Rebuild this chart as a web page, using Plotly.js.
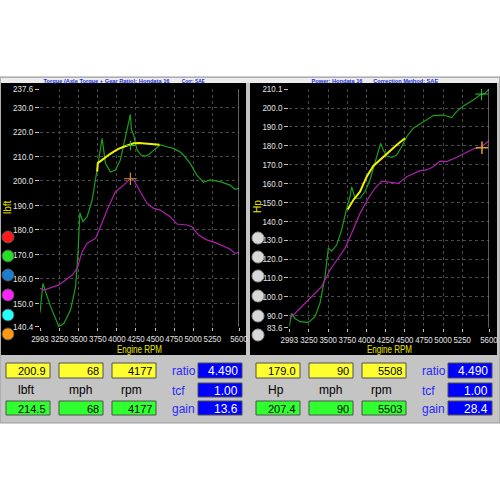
<!DOCTYPE html>
<html><head><meta charset="utf-8">
<script src="https://cdn.plot.ly/plotly-3.0.1.min.js"></script>
<style>html,body{margin:0;padding:0;background:#fff;}#c{width:500px;height:500px;}</style>
</head><body><div id="c"></div>
<script>
// ---------- DATA ----------
// Torque chart (lbft vs Engine RPM)
const tqGreenRpm = [2993,3032,3058,3132,3241,3306,3393,3459,3490,3515,3554,3611,3676,3720,3750,3790,3807,3830,3850,3916,3981,4046,4111,4150,4177,4190,4220,4264,4320,4373,4420,4460,4568,4655,4742,4820,4873,4960,5047,5134,5221,5352,5482,5547,5600];
const tqGreen    = [146.1,158.1,155.4,148.6,140.4,141.8,147.2,156.8,170.0,187.0,183.4,185.4,192.2,200.4,205.8,213.0,217.4,212.0,207.2,203.7,204.5,208.6,218.1,224.0,227.2,221.0,218.8,212.7,210.5,210.2,210.8,212.0,214.7,214.0,213.3,212.0,210.6,207.2,202.4,199.4,200.4,199.7,198.3,196.6,197.0];
const tqYellowRpm = [3742,3750,3790,3829,3900,3959,4020,4090,4160,4220,4290,4351,4420,4481,4560];
const tqYellow    = [203.8,207.2,208.2,209.2,210.8,212.0,213.1,214.0,214.8,215.4,215.5,215.4,215.3,215.1,214.8];
const tqMagentaRpm = [2993,3045,3241,3415,3480,3546,3611,3720,3785,3872,3981,4090,4177,4220,4307,4394,4481,4568,4699,4786,4917,4982,5069,5178,5287,5395,5482,5547,5600];
const tqMagenta    = [156.1,155.4,157.5,161.5,164.3,171.1,174.5,176.5,181.3,188.1,195.6,198.3,201.1,200.4,195.6,190.9,188.8,188.1,185.4,182.4,182.0,181.3,177.9,175.9,174.8,173.5,172.2,170.4,170.7];

// Power chart (Hp vs Engine RPM)
const hpGreenRpm = [2993,3023,3067,3132,3241,3328,3393,3459,3502,3546,3611,3676,3742,3785,3807,3850,3916,3981,4046,4111,4155,4185,4220,4264,4329,4394,4460,4525,4612,4742,4873,5004,5112,5178,5265,5395,5482,5547,5600];
const hpGreen    = [84.1,91.2,88.5,86.8,86.4,89.4,96.5,110.6,125.7,124.2,127.4,135.4,146.8,153.0,158.3,152.2,152.2,155.7,161.9,171.6,177.8,181.3,177.8,174.6,173.9,175.1,179.5,184.8,189.3,192.8,196.0,196.3,194.9,198.1,201.1,204.3,206.9,207.8,210.1];
const hpYellowRpm = [3755,3829,3916,4003,4090,4177,4264,4394,4503];
const hpYellow    = [146.3,151.3,155.7,163.6,169.3,172.5,176.0,180.4,184.0];
const hpMagentaRpm = [2993,3045,3241,3415,3524,3611,3720,3807,3916,4025,4111,4198,4307,4416,4525,4699,4786,4873,4960,5047,5178,5287,5395,5504,5600];
const hpMagenta    = [88.5,90.3,98.3,105.3,114.2,119.5,125.7,133.6,144.2,152.2,157.5,161.3,160.6,160.1,163.6,166.8,167.2,168.9,171.9,171.6,173.9,176.0,178.3,179.5,182.7];

// Cursors
const tqCursorRpm = [4177, 4177];
const tqCursorVal = [200.9, 214.5];
const hpCursorRpm = [5508, 5503];
const hpCursorVal = [179.0, 207.4];

// Tick labels
const rpmTicks = [2993,3250,3500,3750,4000,4250,4500,4750,5000,5250,5600];
const tqTicks  = [140.4,150,160,170,180,190,200,210,220,230,237.6];
const tqTickText = ["140.4","150.0","160.0","170.0","180.0","190.0","200.0","210.0","220.0","230.0","237.6"];
const hpTicks  = [83.6,90,100,110,120,130,140,150,160,170,180,190,200,210.1];
const hpTickText = ["83.6","90.0","100.0","110.0","120.0","130.0","140.0","150.0","160.0","170.0","180.0","190.0","200.0","210.1"];

// Texts
const tqTitle1 = "Torque (Axle Torque + Gear Ratio): Hondata 16";
const tqTitle2 = "Corr: SAE";
const hpTitle1 = "Power: Hondata 16";
const hpTitle2 = "Correction Method: SAE";
const xTitle = "Engine RPM";
const tqUnit = "lbft", hpUnit = "Hp";
const tqYellowBoxes = ["200.9","68","4177"];
const tqGreenBoxes  = ["214.5","68","4177"];
const tqBlueBoxes   = ["4.490","1.00","13.6"];
const hpYellowBoxes = ["179.0","90","5508"];
const hpGreenBoxes  = ["207.4","90","5503"];
const hpBlueBoxes   = ["4.490","1.00","28.4"];
const tqBoxLabels = ["lbft","mph","rpm"];
const hpBoxLabels = ["Hp","mph","rpm"];
const blueLabels = ["ratio","tcf","gain"];
const legendColors = ["#ff1a1a","#22e022","#1a7fd0","#ff22ff","#22ffff","#ff9a10"];

// ---------- LAYOUT HELPERS (pixel -> paper) ----------
const W = 500, H = 500;
const FONT = "Liberation Sans, Arial, sans-serif";
const shapes = [], ann = [];
function rect(x0,y0,x1,y1,fill,lc,lw,layer){
  shapes.push({type:'rect',xref:'paper',yref:'paper',x0:x0/W,x1:x1/W,y0:1-y1/H,y1:1-y0/H,
    fillcolor:fill,line:{color:lc||fill,width:lw===undefined?0:lw},layer:layer||'below'});
}
function circ(cx,cy,r,fill,lc){
  shapes.push({type:'circle',xref:'paper',yref:'paper',x0:(cx-r)/W,x1:(cx+r)/W,y0:1-(cy+r)/H,y1:1-(cy-r)/H,
    fillcolor:fill,line:{color:lc,width:1},layer:'above'});
}
function txt(x,y,t,size,color,xa,opts){
  ann.push(Object.assign({xref:'paper',yref:'paper',x:x/W,y:1-y/H,text:t,showarrow:false,
    xanchor:xa||'center',yanchor:'middle',font:{family:FONT,size:size,color:color}},opts||{}));
}
function box(x0,y0,x1,y1,fill,val,tc,size){
  rect(x0,y0,x1,y1,fill,'#505050',1,'above');
  txt(x1-2,(y0+y1)/2+0.5,val,size,tc,'right');
}

// panel
rect(0,77,500,423,'#c4c4c4','#9a9a9a',1);
rect(1,78,499,83,'#ececec');
rect(1,83,246,355,'#000000');
rect(250,83,497,355,'#000000');

// title bar texts (centres; widths squeezed after render)
const titleFont = {family:FONT,size:6,color:'#2030d8',weight:'bold'};
txt(107,80.5,tqTitle1,6,'#2030d8','center',{font:titleFont});
txt(193.5,80.5,tqTitle2,6,'#2030d8','center',{font:titleFont});
txt(337.5,80.5,hpTitle1,6,'#2030d8','center',{font:titleFont});
txt(405.5,80.5,hpTitle2,6,'#2030d8','center',{font:titleFont});
const squeezeTo = {};
squeezeTo[tqTitle1]=126; squeezeTo[tqTitle2]=23; squeezeTo[hpTitle1]=51; squeezeTo[hpTitle2]=65; squeezeTo[xTitle]=45;

// axis titles
txt(139,348.5,xTitle,10.5,'#e8e800');
txt(389,348.5,xTitle,10.5,'#e8e800');
txt(8,207,tqUnit,10,'#e8e800','center',{textangle:-90});
txt(258,207,hpUnit,10,'#e8e800','center',{textangle:-90});

// legend circles
const cyL = [237,256,275,295,315,334];
cyL.forEach((cy,i)=>circ(8,cy,6,legendColors[i],'#555'));
const cyR = [238,257,276,296,316,335];
cyR.forEach(cy=>{circ(258,cy,6,'#d8d8d8','#9a9a9a');});

// bottom boxes
function panel(off,yb,gb,bb,labs){
  const xs=[[6,50],[59,103],[112,156]];
  xs.forEach((p,i)=>{
    box(p[0]+off,363,p[1]+off,378,'#ffff30',yb[i],'#000',11);
    box(p[0]+off,401,p[1]+off,415,'#30ff30',gb[i],'#000',11);
  });
  const lx=[26,80,131];
  labs.forEach((l,i)=>txt(lx[i]+off,390,l,12,'#000'));
  const by=[[363,378],[383,397],[401,415]];
  by.forEach((p,i)=>{
    box(198+off,p[0],242+off,p[1],'#0000ff',bb[i],'#fff',12);
    txt(170+off,(p[0]+p[1])/2+0.5,blueLabels[i],12,'#2828ff','left');
  });
}
panel(0,tqYellowBoxes,tqGreenBoxes,tqBlueBoxes,tqBoxLabels);
panel(250,hpYellowBoxes,hpGreenBoxes,hpBlueBoxes,hpBoxLabels);

// right-edge cursor lines
shapes.push({type:'line',xref:'x',yref:'y domain',x0:5600,x1:5600,y0:0,y1:1,line:{color:'#b8b8b8',width:1},layer:'above'});
shapes.push({type:'line',xref:'x2',yref:'y2 domain',x0:5600,x1:5600,y0:0,y1:1,line:{color:'#b8b8b8',width:1},layer:'above'});

const tickFont = {family:FONT,size:9,color:'#e4e4e4'};
function xax(dom,anchor){
  return {domain:dom,anchor:anchor,range:[2993,5600],tickmode:'array',tickvals:rpmTicks,ticktext:rpmTicks.map(String),
    tickangle:0,tickfont:tickFont,ticks:'outside',ticklen:3,tickcolor:'#c0c0c0',showgrid:true,gridcolor:'#4a4a4a',
    griddash:'dot',zeroline:false,showline:false,fixedrange:true,ticklabeloverflow:'allow',automargin:false};
}
function yax(dom,anchor,rng,tv,tt){
  return {domain:dom,anchor:anchor,range:rng,tickmode:'array',tickvals:tv,ticktext:tt,tickfont:{family:FONT,size:9.5,color:'#e4e4e4'},
    ticks:'outside',ticklen:4,tickcolor:'#c0c0c0',showgrid:true,gridcolor:'#4a4a4a',griddash:'dot',zeroline:false,showline:false,fixedrange:true,ticklabeloverflow:'allow',automargin:false};
}

const traces = [
  {x:tqGreenRpm,y:tqGreen,xaxis:'x',yaxis:'y',mode:'lines',line:{color:'#1aa01a',width:1.2}},
  {x:tqMagentaRpm,y:tqMagenta,xaxis:'x',yaxis:'y',mode:'lines',line:{color:'#b020b0',width:1.2}},
  {x:tqYellowRpm,y:tqYellow,xaxis:'x',yaxis:'y',mode:'lines',line:{color:'#f0f000',width:2}},
  {x:[tqCursorRpm[0]],y:[tqCursorVal[0]],xaxis:'x',yaxis:'y',mode:'markers',marker:{symbol:'cross-thin',size:9,line:{color:'#d09020',width:1.2}}},
  {x:[tqCursorRpm[1]],y:[tqCursorVal[1]],xaxis:'x',yaxis:'y',mode:'markers',marker:{symbol:'cross-thin',size:7,line:{color:'#30c030',width:1}}},
  {x:hpGreenRpm,y:hpGreen,xaxis:'x2',yaxis:'y2',mode:'lines',line:{color:'#1aa01a',width:1.2}},
  {x:hpMagentaRpm,y:hpMagenta,xaxis:'x2',yaxis:'y2',mode:'lines',line:{color:'#b020b0',width:1.2}},
  {x:hpYellowRpm,y:hpYellow,xaxis:'x2',yaxis:'y2',mode:'lines',line:{color:'#f0f000',width:2}},
  {x:[hpCursorRpm[0]],y:[hpCursorVal[0]],xaxis:'x2',yaxis:'y2',mode:'markers',marker:{symbol:'cross-thin',size:9,line:{color:'#e0a030',width:1.5}}},
  {x:[hpCursorRpm[1]],y:[hpCursorVal[1]],xaxis:'x2',yaxis:'y2',mode:'markers',marker:{symbol:'cross-thin',size:9,line:{color:'#30c030',width:1}}}
];

const layout = {
  width:500,height:500,margin:{l:0,r:0,t:0,b:0},paper_bgcolor:'#ffffff',plot_bgcolor:'#000000',
  showlegend:false,
  xaxis:xax([40/W,239/W],'y'),
  yaxis:yax([1-326.7/H,1-89/H],'x',[140.4,237.6],tqTicks,tqTickText),
  xaxis2:xax([289.3/W,489/W],'y2'),
  yaxis2:yax([1-327.7/H,1-89/H],'x2',[83.6,210.1],hpTicks,hpTickText),
  shapes:shapes,annotations:ann
};
function squeeze(el,len){
  el.setAttribute('textLength',len.toFixed(1));
  el.setAttribute('lengthAdjust','spacingAndGlyphs');
}
Plotly.newPlot('c',traces,layout,{staticPlot:true,displayModeBar:false}).then(gd=>{
  gd.querySelectorAll('.xaxislayer-above text').forEach(t=>{
    const w=t.getComputedTextLength(); if(w>0) squeeze(t,Math.min(w*0.9,17.5));
  });
  gd.querySelectorAll('.yaxislayer-above text').forEach(t=>{
    const w=t.getComputedTextLength(); if(w>0) squeeze(t,w*0.84);
  });
  gd.querySelectorAll('text.annotation-text').forEach(t=>{
    const s=t.textContent; if(squeezeTo[s]) squeeze(t,squeezeTo[s]);
  });
});
</script></body></html>
